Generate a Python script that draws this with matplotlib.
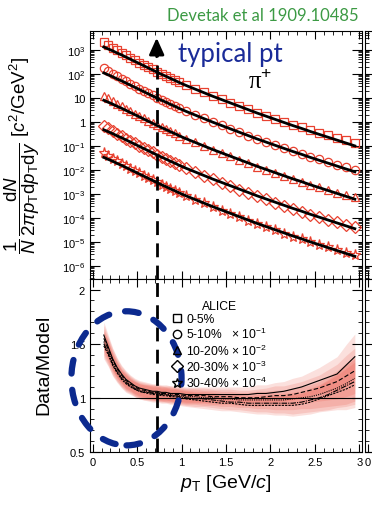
import numpy as np
import matplotlib
matplotlib.use('Agg')
import matplotlib.pyplot as plt
from matplotlib.patches import Ellipse
from matplotlib.lines import Line2D
from matplotlib.ticker import MultipleLocator, FixedLocator, FixedFormatter, LogLocator, NullFormatter

plt.rcParams['font.family'] = ['Liberation Sans', 'DejaVu Sans']
plt.rcParams['mathtext.fontset'] = 'custom'
plt.rcParams['mathtext.rm'] = 'Liberation Sans'
plt.rcParams['mathtext.it'] = 'Liberation Sans:italic'

# pT bin centres (GeV/c)
pt = [0.125, 0.175, 0.225, 0.275, 0.325, 0.375, 0.425, 0.475, 0.525, 0.575,
      0.625, 0.675, 0.725, 0.775, 0.825, 0.875, 0.925, 0.975, 1.05, 1.15,
      1.25, 1.35, 1.45, 1.55, 1.65, 1.75, 1.85, 1.95, 2.05, 2.15, 2.25, 2.35,
      2.45, 2.55, 2.65, 2.75, 2.85, 2.95]

# log10 of model spectra (scaled)
model_0_5 = [3.12, 3.04, 2.96, 2.87, 2.79, 2.70, 2.61, 2.52, 2.43, 2.34, 2.25, 2.16, 2.07, 1.98, 1.90, 1.81, 1.73,
             1.64, 1.52, 1.37, 1.22, 1.07, 0.93, 0.79, 0.65, 0.51, 0.37, 0.24, 0.11, -0.02, -0.15, -0.27,
             -0.40, -0.52, -0.64, -0.76, -0.88, -1.00]
model_5_10 = [2.04, 1.96, 1.88, 1.79, 1.71, 1.62, 1.53, 1.44, 1.35, 1.26, 1.17, 1.08, 0.99, 0.90, 0.82, 0.73, 0.65,
              0.56, 0.44, 0.29, 0.14, -0.01, -0.15, -0.29, -0.43, -0.57, -0.71, -0.84, -0.97, -1.10, -1.23, -1.35,
              -1.48, -1.60, -1.72, -1.84, -1.96, -2.08]
model_10_20 = [0.90, 0.82, 0.74, 0.65, 0.57, 0.48, 0.39, 0.30, 0.21, 0.12, 0.03, -0.06, -0.15, -0.24, -0.32, -0.41, -0.49,
               -0.58, -0.70, -0.85, -1.00, -1.15, -1.29, -1.43, -1.57, -1.71, -1.85, -1.98, -2.11, -2.24, -2.37, -2.49,
               -2.62, -2.74, -2.86, -2.98, -3.10, -3.22]
model_20_30 = [-0.33, -0.41, -0.49, -0.58, -0.66, -0.75, -0.84, -0.93, -1.02, -1.11, -1.20, -1.29, -1.38, -1.47, -1.55, -1.64, -1.72,
               -1.81, -1.93, -2.08, -2.23, -2.38, -2.52, -2.66, -2.80, -2.94, -3.08, -3.21, -3.34, -3.47, -3.60, -3.72,
               -3.85, -3.97, -4.09, -4.21, -4.33, -4.45]
model_30_40 = [-1.48, -1.56, -1.64, -1.73, -1.81, -1.90, -1.99, -2.08, -2.17, -2.26, -2.35, -2.44, -2.53, -2.62, -2.70, -2.79, -2.87,
               -2.96, -3.08, -3.23, -3.38, -3.53, -3.67, -3.81, -3.95, -4.09, -4.23, -4.36, -4.49, -4.62, -4.75, -4.87,
               -5.00, -5.12, -5.24, -5.36, -5.48, -5.60]

# data / model
ratio_0_5 = [1.58, 1.47, 1.36, 1.28, 1.22, 1.17, 1.14, 1.11, 1.09, 1.08, 1.07, 1.06, 1.06, 1.05, 1.05, 1.04, 1.04,
             1.04, 1.03, 1.03, 1.03, 1.03, 1.03, 1.03, 1.03, 1.03, 1.04, 1.04, 1.05, 1.06, 1.08, 1.10,
             1.13, 1.16, 1.19, 1.22, 1.30, 1.38]
ratio_5_10 = [1.55, 1.45, 1.35, 1.27, 1.21, 1.16, 1.13, 1.10, 1.08, 1.07, 1.06, 1.05, 1.05, 1.04, 1.04, 1.04, 1.03,
              1.03, 1.02, 1.02, 1.02, 1.01, 1.01, 1.01, 1.00, 1.00, 1.00, 1.01, 1.02, 1.02, 1.03, 1.05,
              1.07, 1.09, 1.12, 1.15, 1.20, 1.25]
ratio_10_20 = [1.52, 1.43, 1.33, 1.25, 1.19, 1.15, 1.12, 1.09, 1.07, 1.06, 1.05, 1.05, 1.04, 1.04, 1.03, 1.03, 1.02,
               1.02, 1.01, 1.01, 1.00, 1.00, 0.99, 0.99, 0.98, 0.98, 0.98, 0.98, 0.98, 0.98, 0.99, 1.00,
               1.01, 1.03, 1.06, 1.09, 1.13, 1.18]
ratio_20_30 = [1.50, 1.41, 1.31, 1.24, 1.18, 1.14, 1.11, 1.08, 1.06, 1.05, 1.05, 1.04, 1.04, 1.03, 1.03, 1.02, 1.02,
               1.01, 1.00, 0.99, 0.99, 0.98, 0.97, 0.96, 0.96, 0.95, 0.95, 0.95, 0.95, 0.95, 0.95, 0.96,
               0.98, 1.00, 1.03, 1.07, 1.11, 1.15]
ratio_30_40 = [1.48, 1.40, 1.30, 1.23, 1.17, 1.13, 1.10, 1.08, 1.06, 1.05, 1.04, 1.03, 1.03, 1.02, 1.02, 1.01, 1.01,
               1.00, 0.99, 0.98, 0.97, 0.96, 0.95, 0.95, 0.94, 0.93, 0.93, 0.93, 0.93, 0.93, 0.93, 0.94,
               0.96, 0.99, 1.02, 1.05, 1.08, 1.12]
ratio_err = [0.12, 0.11, 0.10, 0.09, 0.08, 0.08, 0.07, 0.07, 0.07, 0.07, 0.07, 0.07, 0.07, 0.07, 0.07, 0.07, 0.07,
             0.07, 0.07, 0.07, 0.07, 0.07, 0.07, 0.07, 0.07, 0.07, 0.08, 0.08, 0.09, 0.09, 0.10, 0.10,
             0.11, 0.12, 0.14, 0.16, 0.19, 0.21]

labels = ['0-5%', '5-10%   $\\times$ 10$^{-1}$', '10-20% $\\times$ 10$^{-2}$',
          '20-30% $\\times$ 10$^{-3}$', '30-40% $\\times$ 10$^{-4}$']
models = [model_0_5, model_5_10, model_10_20, model_20_30, model_30_40]
ratios = [ratio_0_5, ratio_5_10, ratio_10_20, ratio_20_30, ratio_30_40]
markers = ['s', 'o', '^', 'D', '*']
lstyles = ['-', (0, (4, 2)), (0, (1, 1)), (0, (5, 1, 1, 1)), (0, (2, 1))]
typical_pt = 0.72

red = '#e8402f'
fig = plt.figure(figsize=(3.72, 5.06), dpi=100)
ax1 = fig.add_axes([0.242, 0.447, 0.731, 0.49])
ax2 = fig.add_axes([0.242, 0.105, 0.731, 0.342])
# edge of the neighbouring panel, cut off at the right border
ax3 = fig.add_axes([0.981, 0.447, 0.731, 0.49])
ax4 = fig.add_axes([0.981, 0.105, 0.731, 0.342])

pt_a = np.array(pt)
for m, r, mk in zip(models, ratios, markers):
    mod = 10 ** np.array(m)
    dat = mod * np.array(r)
    ms = 8 if mk == '*' else 6
    ax1.plot(pt_a, dat, ls='none', marker=mk, mfc='none', mec=red, mew=0.9, ms=ms)
    ax1.plot(pt_a, mod, color='black', lw=2)

dec = [1e3, 1e2, 10, 1, 1e-1, 1e-2, 1e-3, 1e-4, 1e-5, 1e-6]
declab = ['10$^{3}$', '10$^{2}$', '10', '1', '10$^{-1}$', '10$^{-2}$', '10$^{-3}$',
          '10$^{-4}$', '10$^{-5}$', '10$^{-6}$']
for ax in (ax1, ax3):
    ax.set_yscale('log')
    ax.set_xlim(-0.03, 3.03)
    ax.set_ylim(2.9e-7, 6.2e3)
    ax.xaxis.set_major_locator(MultipleLocator(0.5))
    ax.xaxis.set_minor_locator(MultipleLocator(0.1))
    ax.set_xticklabels([])
    ax.yaxis.set_major_locator(FixedLocator(dec))
    ax.yaxis.set_minor_locator(LogLocator(base=10, subs=np.arange(2, 10), numticks=20))
    ax.yaxis.set_minor_formatter(NullFormatter())
ax1.yaxis.set_major_formatter(FixedFormatter(declab))
ax3.set_yticklabels([])
ax1.set_ylabel('$\\dfrac{1}{N}\\,\\dfrac{{\\rm d}N}{2\\pi p_{\\rm T}{\\rm d}p_{\\rm T}{\\rm d}y}$ [$c^{2}$/GeV$^{2}$]',
               fontsize=13.5)
ax1.yaxis.set_label_coords(-0.175, 0.5)

ax1.annotate('', xy=(typical_pt, 10 ** 3.62), xytext=(typical_pt, 10 ** 2.6),
             arrowprops=dict(arrowstyle='-|>,head_length=1.0,head_width=0.45', color='black', lw=2))
ax1.plot([typical_pt, typical_pt], [2.9e-7, 10 ** 2.8], color='black', lw=2, ls=(0, (5, 3)))
ax1.text(0.96, 10 ** 2.85, 'typical pt', color='#1a2b98', fontsize=18.5, va='center', family='Lato')
ax1.text(1.75, 10 ** 1.72, 'π$^{+}$', fontsize=18, va='center', family='Liberation Serif')

for r, ls in zip(ratios, lstyles):
    r = np.array(r)
    e = np.array(ratio_err)
    ax2.fill_between(pt_a, r - e, r + e, color=red, alpha=0.16, lw=0)
    ax2.plot(pt_a, r, color='black', lw=0.8, ls=ls)
ax2.axhline(1, color='black', lw=0.8)
ax2.plot([typical_pt, typical_pt], [0.5, 2.1], color='black', lw=2, ls=(0, (5, 3)))
ell = Ellipse((0.38, 1.18), 1.24, 1.24, fill=False, ec='#0c2a8f', lw=4.5, ls=(0, (2.2, 2.6)),
              capstyle='round', clip_on=False, zorder=5)
ax2.add_patch(ell)

for ax in (ax2, ax4):
    ax.set_xlim(-0.03, 3.03)
    ax.set_ylim(0.5, 2.1)
    ax.xaxis.set_minor_locator(MultipleLocator(0.1))
    ax.set_xticks([0, 0.5, 1, 1.5, 2, 2.5, 3])
    ax.yaxis.set_minor_locator(MultipleLocator(0.1))
    ax.set_yticks([0.5, 1, 1.5, 2])
ax2.set_xticklabels(['0', '0.5', '1', '1.5', '2', '2.5', '3'])
ax4.set_xticklabels(['0', '', '', '', '', '', ''])
ax2.set_yticklabels(['0.5', '1', '1.5', '2'])
ax4.set_yticklabels([])
ax2.set_ylabel('Data/Model', fontsize=14)
ax2.yaxis.set_label_coords(-0.14, 0.51)
ax2.set_xlabel('$p_{\\rm T}$ [GeV/$c$]', fontsize=14, labelpad=4)

handles = [Line2D([], [], ls='none', marker=mk, mfc='none', mec='black', ms=7 if mk == '*' else 6)
           for mk in markers]
leg = ax2.legend(handles, labels, title='ALICE', loc='upper left', bbox_to_anchor=(0.27, 0.925),
                 frameon=False, fontsize=8.7, title_fontsize=8.7, handlelength=0.8, handletextpad=0.4,
                 labelspacing=0.08, borderpad=0.2)

for ax in (ax1, ax2, ax3, ax4):
    ax.tick_params(which='both', direction='in', top=True, right=True, labelsize=8)
    ax.tick_params(which='major', length=6)
    ax.tick_params(which='minor', length=3)
    ax.tick_params(axis='y', which='major', length=7)

fig.text(0.963, 0.968, 'Devetak et al 1909.10485', color='#3c9a44', fontsize=12, ha='right', va='center',
         family='Lato')

fig.savefig('out.png', dpi=100)
